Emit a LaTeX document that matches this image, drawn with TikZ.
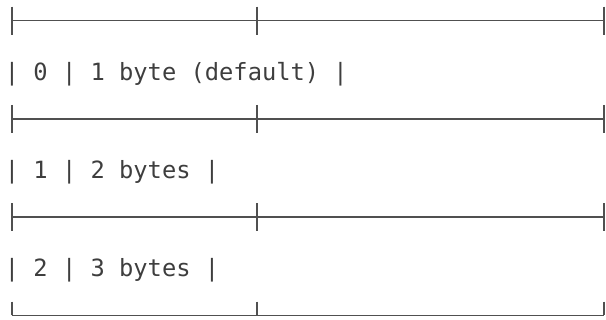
\documentclass[tikz,border=0pt]{standalone}
\usepackage{fontspec}
\setmonofont{DejaVu Sans Mono}
\definecolor{rulegray}{RGB}{80,80,80}
\definecolor{textgray}{RGB}{62,62,62}
\begin{document}
\begin{tikzpicture}[x=0.75pt,y=-0.75pt,
  hrule/.style={draw=rulegray,line width=1.15pt},
  tick/.style={draw=rulegray,line width=1.5pt},
  rowtext/.style={anchor=base west,inner sep=0pt,text=textgray,
    font=\ttfamily\fontsize{17.8pt}{21pt}\selectfont}]
\useasboundingbox (0,0) rectangle (606,320);
% column positions of the box-drawing joints
\def\xa{11.7}\def\xb{257.3}\def\xc{604}
% horizontal rules with their joints
\foreach \y in {20.7,118.9,217.1}{
  \draw[hrule] (\xa,\y) -- (\xc,\y);
  \foreach \x in {\xa,\xb,\xc}
    \draw[tick] (\x,\y-14) -- (\x,\y+14);
}
\draw[hrule] (\xa,315.3) -- (\xc,315.3);
\foreach \x in {\xa,\xb,\xc}
  \draw[tick] (\x,301.5) -- (\x,315.3);
% table rows
\node[rowtext] (r0) at (4.6,80.4) {| 0 | 1 byte (default) |};
\node[rowtext] (r1) at (4.6,178.6) {| 1 | 2 bytes |};
\node[rowtext] (r2) at (4.6,276.8) {| 2 | 3 bytes |};
\end{tikzpicture}
\end{document}
